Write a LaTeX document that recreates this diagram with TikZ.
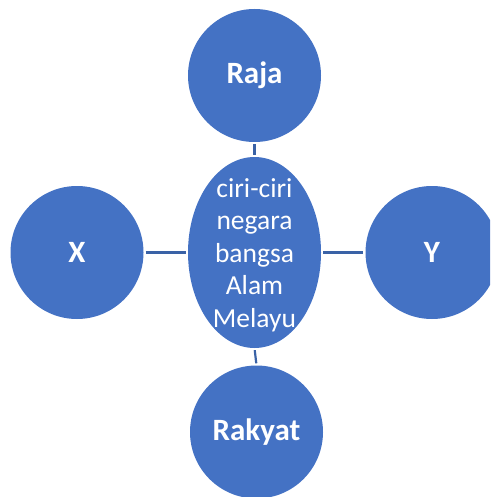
\documentclass[tikz,border=0pt]{standalone}
\usepackage{fontspec}
\setmainfont{Carlito}
\usetikzlibrary{shapes.geometric}
\definecolor{nodeblue}{HTML}{4472C4}
\definecolor{linkblue}{HTML}{3A62A6}
\begin{document}
\begin{tikzpicture}[x=1pt,y=-1pt,
  bubble/.style={circle,fill=nodeblue,draw=none,minimum size=133pt,inner sep=0pt,
    text=white,font=\fontsize{31}{36}\selectfont\bfseries},
  hub/.style={ellipse,fill=nodeblue,draw=none,minimum width=133pt,minimum height=191pt,inner sep=0pt},
  hubtext/.style={text=white,align=center,inner sep=0pt,font=\fontsize{27.5}{32.5}\selectfont},
  link/.style={draw=linkblue,line width=2.2pt,shorten >=2pt,shorten <=2pt}]
\useasboundingbox (0,0) rectangle (490,497);
\clip (0,0) rectangle (490,497);
\node[hub] (c) at (254.5,252.5) {};
\node[hubtext] (ct) at (254.5,255) {ciri-ciri\\negara\\bangsa\\Alam\\Melayu};
\node[bubble] (raja) at (254.5,75.5) {Raja};
\node[bubble] (x) at (77,252.5) {X};
\node[bubble] (y) at (432,252.5) {Y};
\node[bubble] (rakyat) at (256.5,432) {Rakyat};
\draw[link] (raja.south) -- (c.north);
\draw[link] (x.east) -- (c.west);
\draw[link] (c.east) -- (y.west);
\draw[link] (c.south) -- (rakyat.north);
\end{tikzpicture}
\end{document}
